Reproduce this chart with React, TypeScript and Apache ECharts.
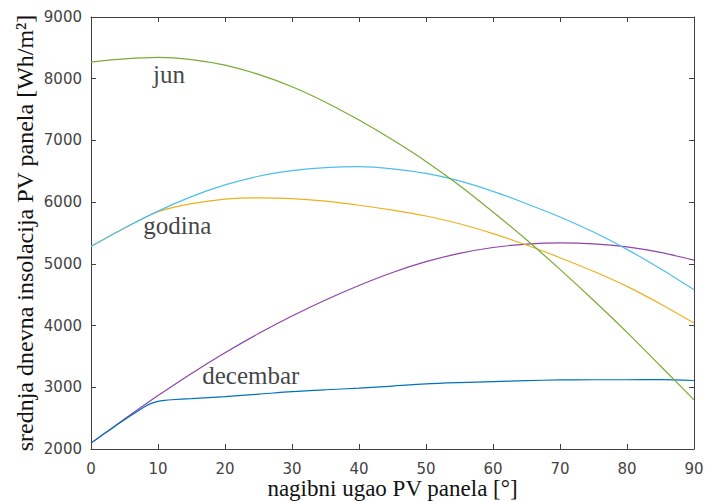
import React, { useEffect, useRef } from "react";
import * as echarts from "echarts";

// tilt angles (degrees)
const angles = [0, 5, 10, 15, 20, 25, 30, 35, 40, 45, 50, 55, 60, 65, 70, 75, 80, 85, 90];

// June (green)
const junValues = [8270, 8320, 8345, 8310, 8220, 8070, 7870, 7620, 7330, 7010, 6660, 6270, 5840, 5390, 4910, 4410, 3890, 3345, 2795];
// Year, model A (light blue)
const godinaA = [5280, 5580, 5855, 6090, 6280, 6420, 6510, 6560, 6575, 6540, 6465, 6345, 6175, 5975, 5760, 5515, 5235, 4920, 4580];
// Year, model B (orange)
const godinaB = [5280, 5580, 5845, 5975, 6050, 6070, 6058, 6015, 5950, 5870, 5775, 5650, 5490, 5305, 5100, 4880, 4635, 4350, 4040];
// December, model A (purple)
const decembarA = [2095, 2485, 2865, 3225, 3560, 3870, 4155, 4415, 4650, 4860, 5035, 5170, 5265, 5320, 5340, 5325, 5275, 5185, 5060];

// December, model B (blue) — denser near the knee at 10°
const decAngles = [0, 2, 4, 6, 8, 9, 10, 11, 12, 15, 20, 25, 30, 35, 40, 45, 50, 55, 60, 65, 70, 75, 80, 85, 90];
const decembarB = [2095, 2250, 2400, 2545, 2685, 2740, 2772, 2788, 2798, 2815, 2848, 2888, 2930, 2960, 2985, 3020, 3054, 3075, 3091, 3108, 3119, 3122, 3122, 3125, 3110];

// axis ranges / ticks
const xMin = 0, xMax = 90, xStep = 10;
const yMin = 2000, yMax = 9000, yStep = 1000;

// curve annotations (data coordinates of the text's left/middle point)
const labelTexts = ["jun", "godina", "decembar"];
const labelX = [9.25, 7.8, 16.6];
const labelY = [8070, 5620, 3190];

const pairs = (xs: number[], ys: number[]) => xs.map((x, i) => [x, ys[i]]);

const SERIF = "Liberation Serif";
const SANS = "DejaVu Sans";
const AXIS_COLOR = "#404040";

export default function App() {
  const ref = useRef<HTMLDivElement>(null);

  useEffect(() => {
    document.body.style.margin = "0";
    if (!ref.current) return;
    const chart = echarts.init(ref.current, null, { renderer: "svg" });

    const axisCommon = {
      type: "value" as const,
      axisLine: { show: true, onZero: false, lineStyle: { color: AXIS_COLOR, width: 1 } },
      axisTick: { show: true, inside: true, length: 5, lineStyle: { color: AXIS_COLOR, width: 1 } },
      splitLine: { show: false },
    };

    const lineSeries = (name: string, xs: number[], ys: number[], color: string) => ({
      name,
      type: "line",
      data: pairs(xs, ys),
      smooth: 0.3,
      showSymbol: false,
      symbol: "none",
      lineStyle: { color, width: 1.2 },
      itemStyle: { color },
      silent: true,
    });

    chart.setOption({
      animation: false,
      backgroundColor: "#ffffff",
      textStyle: { fontFamily: SERIF },
      grid: {
        left: 91,
        right: 11,
        top: 17,
        bottom: 53,
        containLabel: false,
        outerBoundsMode: "none",
      },
      xAxis: [
        {
          ...axisCommon,
          position: "bottom",
          min: xMin,
          max: xMax,
          interval: xStep,
          axisLabel: { margin: 12, fontSize: 15, lineHeight: 15, color: "#444", fontFamily: SANS },
          name: "nagibni ugao PV panela [°]",
          nameLocation: "middle",
          nameGap: 28,
          nameMoveOverlap: false,
          nameTextStyle: { fontFamily: SERIF, fontSize: 23, lineHeight: 23, color: "#111" },
        },
        {
          ...axisCommon,
          position: "top",
          min: xMin,
          max: xMax,
          interval: xStep,
          axisLabel: { show: false },
        },
      ],
      yAxis: [
        {
          ...axisCommon,
          position: "left",
          min: yMin,
          max: yMax,
          interval: yStep,
          axisLabel: {
            margin: 9,
            fontSize: 15,
            color: "#444",
            fontFamily: SANS,
            formatter: (v: number) => String(v),
          },
          name: "srednja dnevna insolacija PV panela [Wh/m²]",
          nameLocation: "middle",
          nameGap: 54,
          nameRotate: 90,
          nameMoveOverlap: false,
          nameTextStyle: { fontFamily: SERIF, fontSize: 24, color: "#111" },
        },
        {
          ...axisCommon,
          position: "right",
          min: yMin,
          max: yMax,
          interval: yStep,
          axisLabel: { show: false },
        },
      ],
      series: [
        lineSeries("decembar A", angles, decembarA, "#8E44A8"),
        lineSeries("decembar B", decAngles, decembarB, "#0072BD"),
        lineSeries("godina B", angles, godinaB, "#EDB120"),
        lineSeries("godina A", angles, godinaA, "#4DBEEE"),
        lineSeries("jun", angles, junValues, "#77AC30"),
        {
          name: "labels",
          type: "scatter",
          silent: true,
          symbolSize: 0,
          data: labelTexts.map((t, i) => ({ name: t, value: [labelX[i], labelY[i]] })),
          label: {
            show: true,
            position: "right",
            distance: 0,
            formatter: (p: any) => p.name,
            fontFamily: SERIF,
            fontSize: 25,
            color: "#111",
          },
          z: 10,
        },
      ],
    });

    return () => chart.dispose();
  }, []);

  return (
    <div
      ref={ref}
      style={{ width: 705, height: 502, position: "absolute", left: 0, top: 0 }}
    />
  );
}
